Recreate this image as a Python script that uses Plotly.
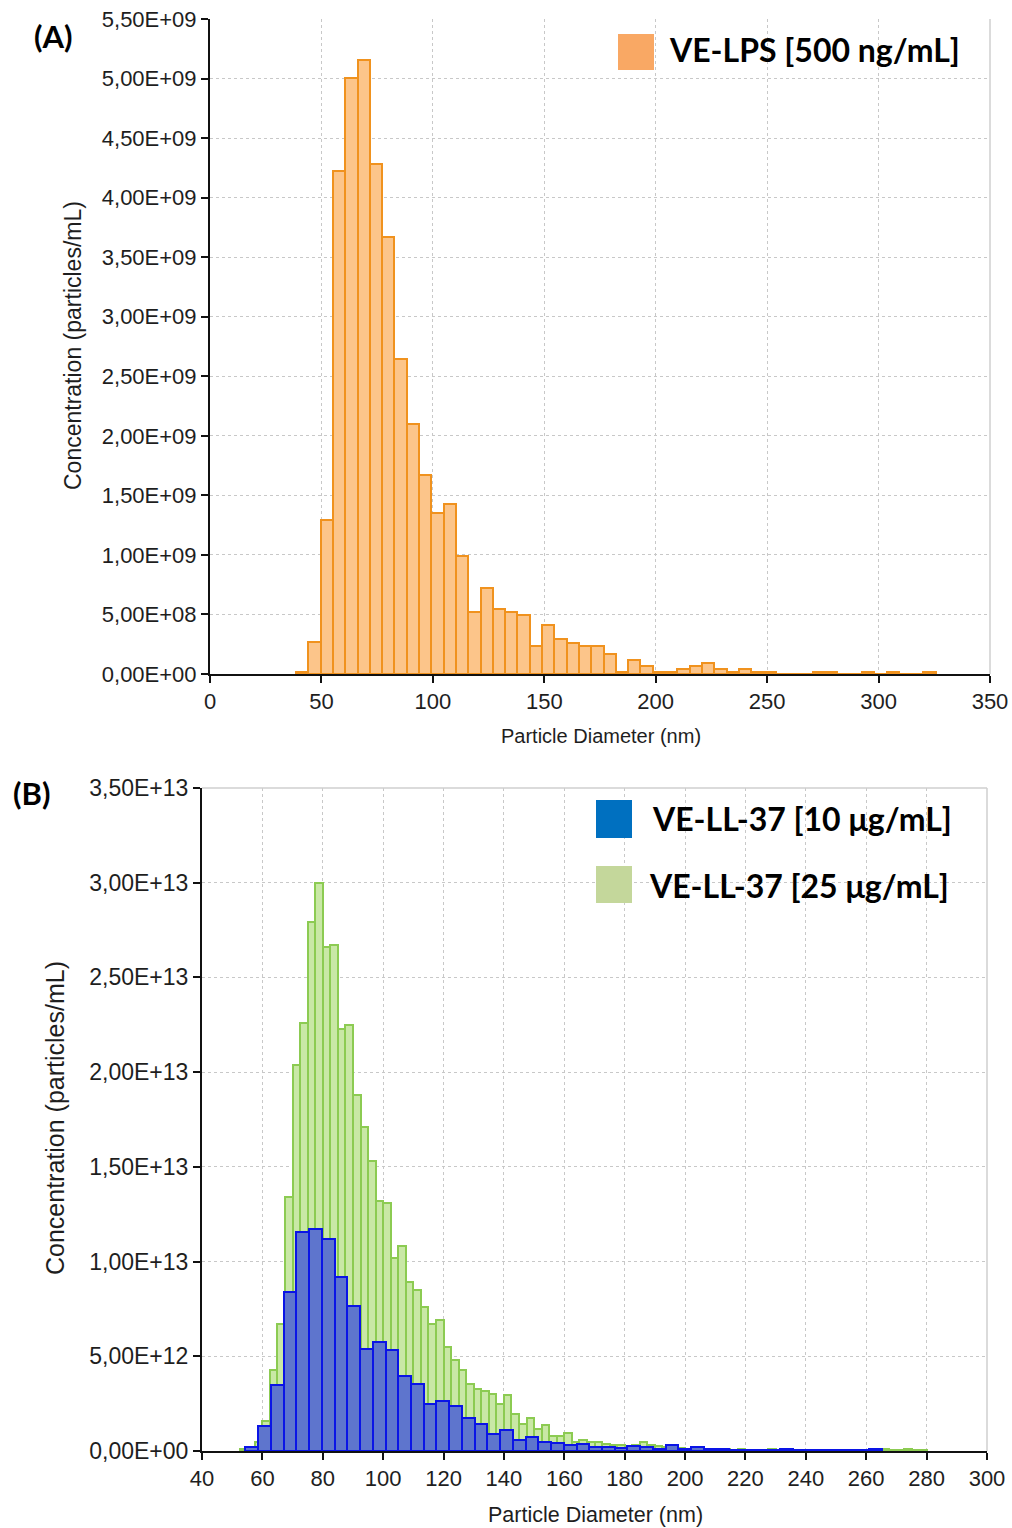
import plotly.graph_objects as go

# ---------------- Data ----------------
# Panel A: VE-LPS [500 ng/mL] histogram (bin width ~5.52 nm, first edge ~38.6 nm)
bin_start_a = 38.6
bin_width_a = 5.52
conc_a_e9 = [0.02, 0.266, 1.293, 4.226, 5.007, 5.155, 4.28, 3.672, 2.645, 2.097,
             1.671, 1.349, 1.425, 0.993, 0.518, 0.72, 0.543, 0.52, 0.492, 0.238,
             0.411, 0.291, 0.263, 0.235, 0.235, 0.165, 0.02, 0.118, 0.067, 0.02,
             0.02, 0.042, 0.07, 0.09, 0.042, 0.02, 0.042, 0.02, 0.02, 0.0,
             0.0, 0.0, 0.02, 0.02, 0.0, 0.0, 0.02, 0.0, 0.02, 0.0,
             0.0, 0.02]
diam_a = [round(bin_start_a + bin_width_a * (i + 0.5), 2) for i in range(len(conc_a_e9))]
conc_a = [v * 1e9 for v in conc_a_e9]

# Panel B: VE-LL-37 [10 ug/mL] (blue, bin width ~4.22 nm, first edge ~54.4 nm)
bin_start_b10 = 54.4
bin_width_b10 = 4.217
conc_b10_e12 = [0.21, 1.32, 3.51, 8.42, 11.58, 11.72, 11.18, 9.21, 7.67, 5.39,
                5.75, 5.35, 3.95, 3.54, 2.46, 2.63, 2.4, 1.72, 1.43, 0.9,
                1.1, 0.59, 0.74, 0.45, 0.44, 0.3, 0.39, 0.21, 0.21, 0.18,
                0.25, 0.21, 0.12, 0.3, 0.09, 0.21, 0.12, 0.09, 0.07, 0.06,
                0.05, 0.06, 0.12, 0.05, 0.05, 0.04, 0.05, 0.04, 0.04, 0.1]
diam_b10 = [round(bin_start_b10 + bin_width_b10 * (i + 0.5), 2) for i in range(len(conc_b10_e12))]
conc_b10 = [v * 1e12 for v in conc_b10_e12]

# Panel B: VE-LL-37 [25 ug/mL] (green, bin width 2.5 nm, first edge 52.5 nm)
bin_start_b25 = 52.5
bin_width_b25 = 2.5
conc_b25_e12 = [0.12, 0.2, 0.45, 1.6, 4.3, 6.7, 13.4, 20.4, 22.6, 27.9,
                30.0, 26.6, 26.7, 22.3, 22.5, 18.8, 17.1, 15.3, 13.2, 13.1,
                10.2, 10.8, 8.9, 8.5, 7.6, 6.7, 6.9, 5.5, 4.8, 4.25,
                3.55, 3.25, 3.15, 3.03, 2.5, 2.98, 1.95, 1.45, 1.74, 1.17,
                1.35, 0.8, 0.8, 0.97, 0.5, 0.6, 0.5, 0.45, 0.38, 0.34,
                0.3, 0.28, 0.33, 0.48, 0.33, 0.25, 0.2, 0.18, 0.15, 0.12,
                0.1, 0.12, 0.08, 0.1, 0.08, 0.06, 0.08, 0.06, 0.05, 0.06,
                0.08, 0.05, 0.06, 0.05, 0.04, 0.05, 0.06, 0.04, 0.05, 0.04,
                0.03, 0.04, 0.05, 0.04, 0.03, 0.08, 0.06, 0.05, 0.08, 0.06,
                0.04]
diam_b25 = [round(bin_start_b25 + bin_width_b25 * (i + 0.5), 2) for i in range(len(conc_b25_e12))]
conc_b25 = [v * 1e12 for v in conc_b25_e12]

# Axis ticks
xticks_a = [0, 50, 100, 150, 200, 250, 300, 350]
yticks_a = [0, 5e8, 1e9, 1.5e9, 2e9, 2.5e9, 3e9, 3.5e9, 4e9, 4.5e9, 5e9, 5.5e9]
xticks_b = [40, 60, 80, 100, 120, 140, 160, 180, 200, 220, 240, 260, 280, 300]
yticks_b = [0, 5e12, 1e13, 1.5e13, 2e13, 2.5e13, 3e13, 3.5e13]

def sci_label(v):
    return f"{v:.2E}".replace(".", ",")

label_a = "VE-LPS [500 ng/mL]"
label_b10 = "VE-LL-37 [10 μg/mL]"
label_b25 = "VE-LL-37 [25 μg/mL]"
xtitle = "Particle Diameter (nm)"
ytitle = "Concentration (particles/mL)"

# ---------------- Figure ----------------
W, H = 1012, 1528
fig = go.Figure()

fig.add_trace(go.Bar(
    x=diam_a, y=conc_a, width=bin_width_a, name=label_a,
    marker=dict(color="#FCC58A", line=dict(color="#F0921E", width=2)),
    xaxis="x", yaxis="y", showlegend=False))

fig.add_trace(go.Bar(
    x=diam_b25, y=conc_b25, width=bin_width_b25, name=label_b25,
    marker=dict(color="#C9E8A6", line=dict(color="#8CCB52", width=2)),
    xaxis="x2", yaxis="y2", showlegend=False))

fig.add_trace(go.Bar(
    x=diam_b10, y=conc_b10, width=bin_width_b10, name=label_b10,
    marker=dict(color="#5E75CD", line=dict(color="#0A14E6", width=2)),
    xaxis="x2", yaxis="y2", showlegend=False))

def tfont(size):
    return dict(family="Liberation Sans, Arial", size=size, color="#1e1e1e")

common_axis = dict(
    showline=True, linecolor="#111", linewidth=2,
    ticks="outside", ticklen=7, tickwidth=2, tickcolor="#111",
    showgrid=True, gridcolor="#c8c8c8", griddash="dot", gridwidth=1,
    zeroline=False, automargin=False,
)

fig.update_layout(
    width=W, height=H, autosize=False,
    margin=dict(l=0, r=0, t=0, b=0),
    paper_bgcolor="white", plot_bgcolor="white",
    barmode="overlay", bargap=0,
    xaxis=dict(domain=[210 / W, 990 / W], range=[0, 350], tickvals=xticks_a,
               anchor="y", tickfont=tfont(22), **common_axis),
    yaxis=dict(domain=[1 - 674 / H, 1 - 19 / H], range=[0, 5.5e9], tickvals=yticks_a,
               ticktext=[sci_label(v) for v in yticks_a], anchor="x",
               tickfont=tfont(22), **common_axis),
    xaxis2=dict(domain=[202 / W, 987 / W], range=[40, 300], tickvals=xticks_b,
                anchor="y2", tickfont=tfont(22), **common_axis),
    yaxis2=dict(domain=[1 - 1451 / H, 1 - 788 / H], range=[0, 3.5e13], tickvals=yticks_b,
                ticktext=[sci_label(v) for v in yticks_b], anchor="x2",
                tickfont=tfont(23), **common_axis),
)

# Light grey frame on right (A) and top/right (B)
frame = dict(color="#cfcfcf", width=1.5)
fig.add_shape(type="line", xref="x domain", yref="y domain", x0=1, x1=1, y0=0, y1=1, line=frame)
fig.add_shape(type="line", xref="x2 domain", yref="y2 domain", x0=1, x1=1, y0=0, y1=1, line=frame)
fig.add_shape(type="line", xref="x2 domain", yref="y2 domain", x0=0, x1=1, y0=1, y1=1, line=frame)

def px(xp, yp):
    return xp / W, 1 - yp / H

annots = []
# axis titles
x, y = px(601, 736)
annots.append(dict(x=x, y=y, text=xtitle, font=tfont(20)))
x, y = px(73, 346)
annots.append(dict(x=x, y=y, text=ytitle, font=tfont(23), textangle=-90))
x, y = px(595, 1515)
annots.append(dict(x=x, y=y, text=xtitle, font=tfont(21.5)))
x, y = px(55, 1118)
annots.append(dict(x=x, y=y, text=ytitle, font=tfont(25), textangle=-90))

# panel labels
lab_font = dict(family="Lato, Open Sans, sans-serif", size=31, color="black", weight="bold")
x, y = px(53, 36)
annots.append(dict(x=x, y=y, text="(A)", font=lab_font))
x, y = px(31, 793)
annots.append(dict(x=x, y=y, text="(B)", font=lab_font))

# legends (text + coloured squares)
leg_font = dict(family="Lato, Open Sans, sans-serif", size=32, color="black", weight="bold")
x, y = px(667, 50)
annots.append(dict(x=x, y=y, text=label_a, font=leg_font, xanchor="left"))
x, y = px(650, 818)
annots.append(dict(x=x, y=y, text=label_b10, font=leg_font, xanchor="left"))
x, y = px(647, 885)
annots.append(dict(x=x, y=y, text=label_b25, font=leg_font, xanchor="left"))
for a in annots:
    a.setdefault("xanchor", "center")
    a.update(xref="paper", yref="paper", yanchor="middle", showarrow=False)
fig.update_layout(annotations=annots)

def square(x0, y0, x1, y1, color):
    fig.add_shape(type="rect", xref="paper", yref="paper",
                  x0=x0 / W, x1=x1 / W, y0=1 - y1 / H, y1=1 - y0 / H,
                  fillcolor=color, line=dict(width=0))

square(618, 34, 654, 70, "#F9A864")
square(596, 800, 632, 838, "#0070C0")
square(596, 866, 632, 903, "#C4D79B")

fig.write_html(
    "out.html",
    config={"responsive": False, "displayModeBar": False},
    post_script="document.body.style.margin='0';document.body.style.overflow='hidden';",
)
